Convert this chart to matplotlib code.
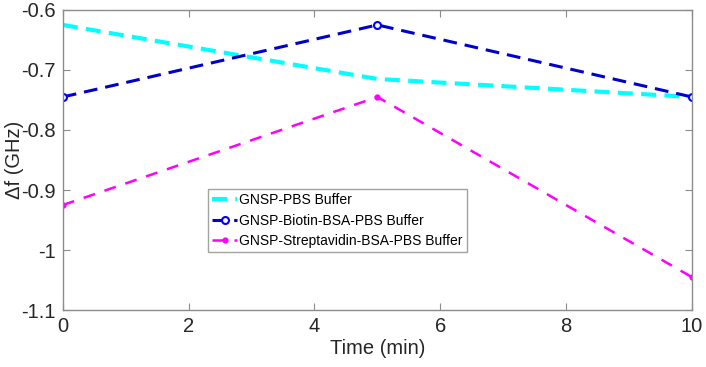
import numpy as np
import matplotlib
matplotlib.use("Agg")
import matplotlib.pyplot as plt

plt.rcParams['font.family'] = ['Liberation Sans', 'DejaVu Sans']

time = [0, 5, 10]
pbs = [-0.625, -0.715, -0.745]
biotin = [-0.745, -0.625, -0.745]
strep = [-0.925, -0.745, -1.045]

labels = ['GNSP-PBS Buffer', 'GNSP-Biotin-BSA-PBS Buffer',
          'GNSP-Streptavidin-BSA-PBS Buffer']

fig = plt.figure(figsize=(7.06, 3.67), dpi=100)
ax = fig.add_axes([0.089, 0.155, 0.891, 0.818])

ax.plot(time, pbs, color='#00ffff', lw=3, dashes=(3.6, 2), label=labels[0])
ax.plot(time, biotin, color='#0000cc', lw=2.2, dashes=(4.5, 2.6), marker='o',
        ms=5, mfc='white', mec='#0000ff', mew=1.5, label=labels[1])
ax.plot(time, strep, color='#ff00ff', lw=1.8, dashes=(4.8, 4), marker='o',
        ms=3.5, mfc='#ff00ff', mec='#ff00ff', label=labels[2])

ax.set_xlim(0, 10)
ax.set_ylim(-1.1, -0.6)
ax.set_xticks([0, 2, 4, 6, 8, 10])
ax.set_yticks([-1.1, -1, -0.9, -0.8, -0.7, -0.6])
ax.set_yticklabels(['-1.1', '-1', '-0.9', '-0.8', '-0.7', '-0.6'])

for s in ax.spines.values():
    s.set_color('#8c8c8c')
    s.set_linewidth(1.0)
ax.tick_params(direction='in', top=True, right=True, color='#8c8c8c',
               labelsize=14.5, labelcolor='#262626', length=5, pad=5)
ax.set_xlabel('Time (min)', fontsize=14.5, color='#262626', labelpad=2)
ax.set_ylabel('Δf (GHz)', fontsize=14.5, color='#262626')
ax.yaxis.set_label_coords(-0.062, 0.5)

leg = ax.legend(loc='upper left', bbox_to_anchor=(0.231, 0.403), fontsize=10,
                frameon=True, fancybox=False, handlelength=1.8,
                handletextpad=0.15, borderpad=0.3, labelspacing=0.45,
                borderaxespad=0)
leg.get_frame().set_edgecolor('#8c8c8c')
leg.get_frame().set_linewidth(1.0)

fig.savefig('out.png', dpi=100)
